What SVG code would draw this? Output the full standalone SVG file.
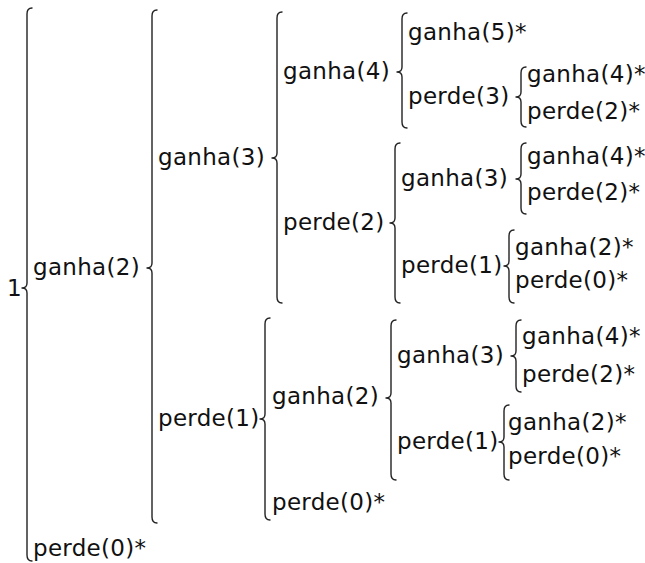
<svg xmlns="http://www.w3.org/2000/svg" width="645" height="563" viewBox="0 0 645 563">
<style>
text{font-family:"DejaVu Sans","Liberation Sans",sans-serif;font-size:23px;letter-spacing:0.3px;fill:#111}
.br{fill:none;stroke:#222;stroke-width:1.4;stroke-linecap:round;stroke-linejoin:round}
</style>
<rect width="645" height="563" fill="#fff"/>
<g id="connectors">
<path class="br" d="M32,8 Q27,8 27,14 L27,283 Q27,288 22,288 Q27,288 27,293 L27,555 Q27,561 32,561"/>
<path class="br" d="M157,10 Q152,10 152,16 L152,263 Q152,268 147,268 Q152,268 152,273 L152,517 Q152,523 157,523"/>
<path class="br" d="M282,12 Q277,12 277,18 L277,153 Q277,158 272,158 Q277,158 277,163 L277,297 Q277,303 282,303"/>
<path class="br" d="M270,318 Q265,318 265,324 L265,414 Q265,419 260,419 Q265,419 265,424 L265,514 Q265,520 270,520"/>
<path class="br" d="M407,13 Q402,13 402,19 L402,67 Q402,72 397,72 Q402,72 402,77 L402,122 Q402,128 407,128"/>
<path class="br" d="M400,143 Q395,143 395,149 L395,218 Q395,223 390,223 Q395,223 395,228 L395,297 Q395,303 400,303"/>
<path class="br" d="M526,67 Q521,67 521,73 L521,92 Q521,97 516,97 Q521,97 521,102 L521,121 Q521,127 526,127"/>
<path class="br" d="M526,143 Q521,143 521,149 L521,174 Q521,179 516,179 Q521,179 521,184 L521,208 Q521,214 526,214"/>
<path class="br" d="M514,230 Q509,230 509,236 L509,261 Q509,266 504,266 Q509,266 509,271 L509,297 Q509,303 514,303"/>
<path class="br" d="M396,320 Q391,320 391,326 L391,393 Q391,398 386,398 Q391,398 391,403 L391,474 Q391,480 396,480"/>
<path class="br" d="M521,320 Q516,320 516,326 L516,351 Q516,356 511,356 Q516,356 516,361 L516,386 Q516,392 521,392"/>
<path class="br" d="M509,405 Q504,405 504,411 L504,437 Q504,442 499,442 Q504,442 504,447 L504,474 Q504,480 509,480"/>
</g>
<g id="n-root"><text x="7" y="296">1</text></g>
<g id="n-g2"><text x="33" y="275">ganha(2)</text></g>
<g id="n-p0-a"><text x="33" y="556">perde(0)*</text></g>
<g id="n-g3"><text x="158" y="165">ganha(3)</text></g>
<g id="n-p1"><text x="158" y="426">perde(1)</text></g>
<g id="n-g4"><text x="283" y="79">ganha(4)</text></g>
<g id="n-p2"><text x="283" y="230">perde(2)</text></g>
<g id="n-g5"><text x="408" y="40">ganha(5)*</text></g>
<g id="n-p3"><text x="408" y="104">perde(3)</text></g>
<g id="n-g4-a"><text x="527" y="82">ganha(4)*</text></g>
<g id="n-p2-a"><text x="527" y="119">perde(2)*</text></g>
<g id="n-g3-b"><text x="401" y="186">ganha(3)</text></g>
<g id="n-g4-b"><text x="527" y="164">ganha(4)*</text></g>
<g id="n-p2-b"><text x="527" y="200">perde(2)*</text></g>
<g id="n-p1-b"><text x="401" y="273">perde(1)</text></g>
<g id="n-g2-b"><text x="515" y="255">ganha(2)*</text></g>
<g id="n-p0-b"><text x="515" y="288">perde(0)*</text></g>
<g id="n-g2-c"><text x="272" y="404">ganha(2)</text></g>
<g id="n-p0-c"><text x="272" y="510">perde(0)*</text></g>
<g id="n-g3-c"><text x="397" y="363">ganha(3)</text></g>
<g id="n-g4-c"><text x="522" y="344">ganha(4)*</text></g>
<g id="n-p2-c"><text x="522" y="382">perde(2)*</text></g>
<g id="n-p1-c"><text x="397" y="449">perde(1)</text></g>
<g id="n-g2-d"><text x="508" y="430">ganha(2)*</text></g>
<g id="n-p0-d"><text x="508" y="464">perde(0)*</text></g>
</svg>
